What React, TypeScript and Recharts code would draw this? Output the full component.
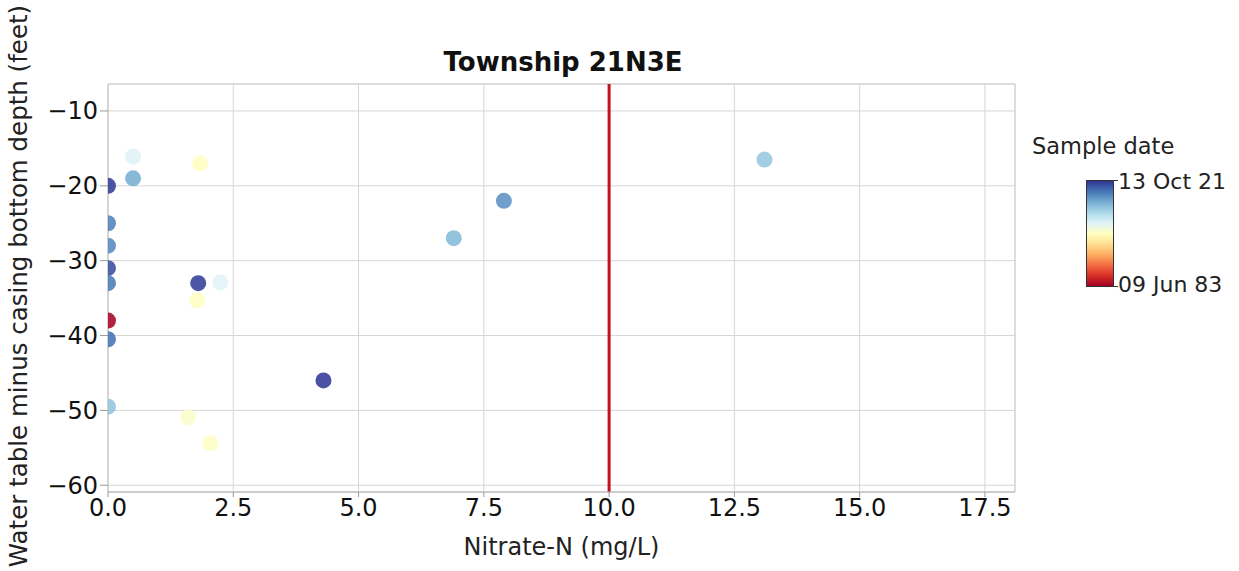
import React from 'react';
import { ScatterChart, Scatter, XAxis, YAxis, CartesianGrid, ReferenceLine, ReferenceArea, Cell } from 'recharts';

const nitrate = [0, 0.5, 0, 0, 0, 0, 0, 0, 0, 1.8, 4.3, 6.9, 7.9, 13.1, 1.84, 1.78, 1.6, 2.04, 0.5, 2.24];
const depth = [-20, -19, -25, -28, -31, -33, -38, -40.5, -49.5, -33, -46, -27, -22, -16.5, -17, -35.3, -50.9, -54.4, -16.1, -32.9];
// sample date as decimal year
const sampleYear = [2021.5, 2014, 2017, 2016.5, 2020.3, 2017.5, 1983.6, 2018, 2012, 2021.3, 2021.6, 2013, 2016, 2011.8, 2002.5, 2002.7, 2003.4, 2002.9, 2006.5, 2006.4];
const xTicks = [0, 2.5, 5, 7.5, 10, 12.5, 15, 17.5];
const yTicks = [-60, -50, -40, -30, -20, -10];
const dateMin = 1983.44;
const dateMax = 2021.78;

// RdYlBu, red (old) -> blue (new)
const rdylbu = ['#a50026', '#d73027', '#f46d43', '#fdae61', '#fee090', '#ffffbf', '#e0f3f8', '#abd9e9', '#74add1', '#4575b4', '#313695'];

const hex = (h: string) => [1, 3, 5].map((i) => parseInt(h.slice(i, i + 2), 16));
const colorFor = (yr: number) => {
  const t = Math.max(0, Math.min(1, (yr - dateMin) / (dateMax - dateMin))) * (rdylbu.length - 1);
  const i = Math.min(rdylbu.length - 2, Math.floor(t));
  const f = t - i;
  const a = hex(rdylbu[i]);
  const b = hex(rdylbu[i + 1]);
  const c = a.map((v, k) => Math.round(v + (b[k] - v) * f));
  return `rgb(${c[0]},${c[1]},${c[2]})`;
};

const data = nitrate.map((x, i) => ({ x, y: depth[i], color: colorFor(sampleYear[i]) }));

const font = '"DejaVu Sans", sans-serif';

const Dot = (props: any) => {
  const { cx, cy, payload } = props;
  if (cx == null || cy == null) return null;
  return <circle cx={cx} cy={cy} r={8} fill={payload.color} fillOpacity={0.88} />;
};

export default function App() {
  return (
    <div style={{ position: 'absolute', left: 0, top: 0, width: 1239, height: 571, background: '#fff', fontFamily: font }}>
      <ScatterChart width={1239} height={571} margin={{ top: 84, right: 224, bottom: 39, left: 48 }}>
        <CartesianGrid stroke="#d6d6d6" strokeWidth={1} />
        <XAxis
          type="number"
          dataKey="x"
          domain={[0, 18.1]}
          ticks={xTicks}
          allowDataOverflow
          height={40}
          tickFormatter={(v: number) => v.toFixed(1)}
          tick={{ fontSize: 24, fill: '#111', fontFamily: font }}
          tickLine={{ stroke: '#999' }}
          tickSize={5}
          axisLine={{ stroke: '#bbb' }}
        />
        <YAxis
          type="number"
          dataKey="y"
          domain={[-60.9, -6.4]}
          ticks={yTicks}
          allowDataOverflow
          width={60}
          tickFormatter={(v: number) => `\u2212${Math.abs(v)}`}
          tick={{ fontSize: 24, fill: '#111', fontFamily: font }}
          tickLine={{ stroke: '#999' }}
          tickSize={8}
          axisLine={{ stroke: '#ccc' }}
        />
        <ReferenceArea x1={0} x2={18.1} y1={-60.9} y2={-6.4} fill="none" stroke="#cfcfcf" />
        <ReferenceLine x={10} stroke="#c0141c" strokeWidth={3} />
        <Scatter data={data} isAnimationActive={false} shape={<Dot />}>
          {data.map((d, i) => (
            <Cell key={`c-${i}`} fill={d.color} />
          ))}
        </Scatter>
      </ScatterChart>

      <div style={{ position: 'absolute', left: 0, top: 47, width: 1126, textAlign: 'center', fontSize: 26, fontWeight: 'bold', color: '#111' }}>
        Township 21N3E
      </div>
      <div style={{ position: 'absolute', left: 108, top: 533, width: 907, textAlign: 'center', fontSize: 24, color: '#222' }}>
        Nitrate-N (mg/L)
      </div>
      <div
        style={{
          position: 'absolute',
          left: 18,
          top: 286,
          transform: 'translate(-50%, -50%) rotate(-90deg)',
          whiteSpace: 'nowrap',
          fontSize: 24.5,
          color: '#222',
        }}
      >
        Water table minus casing bottom depth (feet)
      </div>

      <div style={{ position: 'absolute', left: 1032, top: 133, fontSize: 22.5, color: '#222' }}>Sample date</div>
      <div
        style={{
          position: 'absolute',
          left: 1086,
          top: 180,
          width: 26,
          height: 105,
          border: '1px solid #333',
          background: `linear-gradient(to top, ${rdylbu.join(', ')})`,
        }}
      />
      <div style={{ position: 'absolute', left: 1113, top: 180, width: 5, height: 1, background: '#333' }} />
      <div style={{ position: 'absolute', left: 1113, top: 286, width: 5, height: 1, background: '#333' }} />
      <div style={{ position: 'absolute', left: 1118, top: 169, fontSize: 22, color: '#222' }}>13 Oct 21</div>
      <div style={{ position: 'absolute', left: 1118, top: 272, fontSize: 22, color: '#222' }}>09 Jun 83</div>
    </div>
  );
}
